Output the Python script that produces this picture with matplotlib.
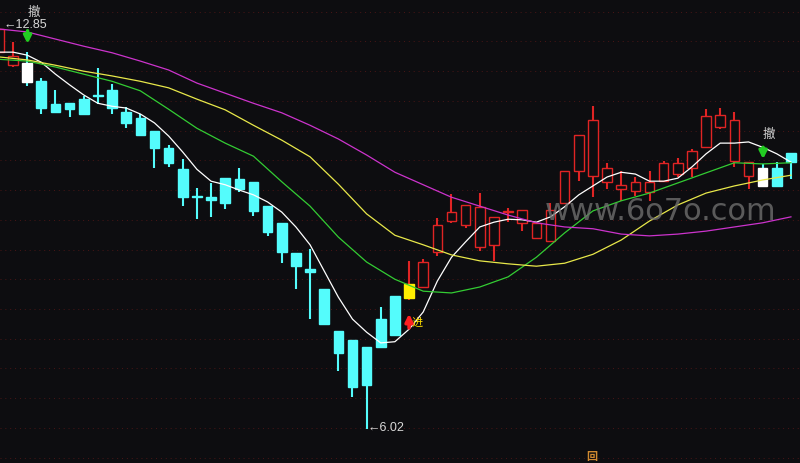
import matplotlib.pyplot as plt
import numpy as np

# K-line data (price), one entry per trading day
opens = [12.36, 12.14, 12.18, 11.87, 11.49, 11.50, 11.57, 11.64, 11.72, 11.35,
         11.25, 11.03, 10.75, 10.39, 9.94, 9.92, 10.24, 10.23, 10.18, 9.77,
         9.49, 8.98, 8.71, 8.38, 7.67, 7.52, 7.40, 7.87, 8.26, 8.22,
         8.41, 9.00, 9.52, 9.45, 9.08, 9.12, 9.67, 9.49, 9.23, 9.18,
         9.82, 10.36, 10.28, 10.18, 10.06, 10.02, 10.01, 10.19, 10.31, 10.41,
         10.76, 11.10, 10.53, 10.28, 10.41, 10.41, 10.66]
closes = [12.75, 12.30, 11.86, 11.42, 11.35, 11.40, 11.32, 11.62, 11.42, 11.17,
          10.97, 10.75, 10.50, 9.92, 9.92, 9.87, 9.82, 10.06, 9.69, 9.34,
          9.00, 8.76, 8.66, 7.79, 7.30, 6.73, 6.76, 7.40, 7.60, 8.46,
          8.83, 9.45, 9.67, 9.79, 9.76, 9.59, 9.67, 9.71, 9.49, 9.71,
          10.36, 10.97, 11.22, 10.41, 10.13, 10.18, 10.18, 10.50, 10.50, 10.70,
          11.29, 11.30, 11.22, 10.51, 10.11, 10.11, 10.51]
highs = [12.85, 12.53, 12.36, 11.93, 11.72, 11.50, 11.62, 12.09, 11.82, 11.44,
         11.32, 11.03, 10.80, 10.56, 10.08, 10.16, 10.24, 10.41, 10.18, 9.77,
         9.49, 8.98, 9.05, 8.38, 7.67, 7.52, 7.40, 8.07, 8.26, 8.85,
         8.88, 9.57, 9.97, 9.79, 9.99, 9.59, 9.74, 9.71, 9.49, 9.82,
         10.36, 10.97, 11.45, 10.50, 10.36, 10.26, 10.36, 10.53, 10.58, 10.73,
         11.40, 11.42, 11.35, 10.51, 10.48, 10.51, 10.66]
lows = [12.33, 12.11, 11.79, 11.32, 11.35, 11.27, 11.32, 11.49, 11.32, 11.08,
        10.97, 10.41, 10.43, 9.77, 9.55, 9.59, 9.72, 10.01, 9.60, 9.27,
        8.81, 8.38, 7.87, 7.79, 7.00, 6.56, 6.02, 7.40, 7.60, 8.19,
        8.41, 8.93, 9.49, 9.40, 9.02, 8.85, 9.50, 9.35, 9.23, 9.17,
        9.82, 10.19, 9.92, 10.06, 9.86, 9.94, 9.86, 10.19, 10.26, 10.26,
        10.76, 11.07, 10.43, 10.06, 10.11, 10.11, 10.23]

# signal candles drawn with a special fill
sell_days = [2, 54]
buy_days = [29]

# moving averages
ma_short = [12.36, 12.36, 12.31, 12.19, 11.99, 11.81, 11.64, 11.50, 11.45, 11.42,
            11.32, 11.17, 10.95, 10.68, 10.39, 10.19, 10.13, 10.04, 9.96, 9.84,
            9.67, 9.42, 9.12, 8.68, 8.24, 7.87, 7.65, 7.47, 7.49, 7.70,
            7.99, 8.51, 8.91, 9.17, 9.42, 9.50, 9.55, 9.54, 9.50, 9.59,
            9.76, 9.96, 10.11, 10.26, 10.34, 10.31, 10.19, 10.19, 10.24, 10.43,
            10.65, 10.83, 10.83, 10.85, 10.76, 10.65, 10.51]
ma_days = list(range(0, 57, 2))
ma_green = [12.24, 12.21, 12.11, 11.99, 11.87, 11.71, 11.40, 11.08, 10.83, 10.61,
            10.18, 9.77, 9.25, 8.83, 8.54, 8.34, 8.31, 8.41, 8.58, 8.91,
            9.32, 9.69, 9.86, 9.99, 10.16, 10.33, 10.50, 10.48, 10.50]
ma_yellow = [12.28, 12.23, 12.14, 12.04, 11.96, 11.87, 11.76, 11.57, 11.39, 11.13,
             10.88, 10.60, 10.14, 9.64, 9.28, 9.12, 8.95, 8.85, 8.80, 8.76,
             8.81, 8.96, 9.20, 9.52, 9.79, 9.99, 10.11, 10.21, 10.29]
ma_magenta = [12.75, 12.70, 12.58, 12.46, 12.35, 12.21, 12.06, 11.84, 11.67, 11.50,
              11.34, 11.13, 10.90, 10.63, 10.34, 10.13, 9.92, 9.77, 9.62, 9.49,
              9.42, 9.39, 9.30, 9.27, 9.30, 9.35, 9.42, 9.49, 9.59]

BG = '#0d0d10'
UP = '#e02424'
DOWN = '#54fcfc'
CJK = ['Noto Sans CJK SC', 'DejaVu Sans']
NUM = ['Liberation Sans', 'DejaVu Sans']

fig = plt.figure(figsize=(8, 4.64), dpi=100, facecolor=BG)
ax = fig.add_axes([0, 0, 1, 1])
ax.set_facecolor(BG)
ax.set_xlim(0.08, 56.64)
ax.set_ylim(5.45, 13.254)
ax.axis('off')

# dotted grid, very dim
for lvl in np.arange(5.54, 13.1, 0.5):
    ax.axhline(lvl, color='#4a1616', lw=0.7, ls=(0, (1, 4)), zorder=0)

days = np.arange(len(opens))
o = np.array(opens)
c = np.array(closes)
up = c > o
up[36] = True  # cross candle drawn red

wick_colors = [UP if u else DOWN for u in up]
ax.vlines(days, lows, highs, colors=wick_colors, lw=1.5, zorder=2)

body_bottom = np.minimum(o, c)
body_height = np.maximum(np.abs(c - o), 0.015)
for i in days:
    if i in sell_days:
        fc, ec = '#ffffff', '#ffffff'
    elif i in buy_days:
        fc, ec = '#ffee00', '#ffee00'
    elif up[i]:
        fc, ec = BG, UP
    else:
        fc, ec = DOWN, DOWN
    ax.bar(i, body_height[i], bottom=body_bottom[i], width=0.68,
           facecolor=fc, edgecolor=ec, lw=1.0, zorder=3)

# moving averages
ax.plot(days, ma_short, color='#ffffff', lw=0.9, zorder=4)
ax.plot(ma_days, ma_green, color='#33cc33', lw=0.9, zorder=4)
ax.plot(ma_days, ma_yellow, color='#e8e84a', lw=0.9, zorder=4)
ax.plot(ma_days, ma_magenta, color='#cc33cc', lw=0.9, zorder=4)

# extreme values
ax.text(0.36, 12.84, '←12.85', color='#d8d8d8', fontsize=9, ha='left', va='center',
        family=NUM, zorder=6)
ax.text(26.03, 6.05, '←6.02', color='#d8d8d8', fontsize=9, ha='left', va='center',
        family=NUM, zorder=6)

# sell signals
for x, ty, a0, a1 in [(2.45, 13.05, 12.72, 12.50), (54.45, 11.0, 10.76, 10.56)]:
    ax.text(x, ty, '撤', color='#d0d0d0', fontsize=9, ha='center', va='center',
            family=CJK, zorder=6)
    ax.annotate('', xy=(x - 0.42, a1), xytext=(x - 0.42, a0),
                arrowprops=dict(arrowstyle='-|>', color='#22cc22', lw=2.5,
                                mutation_scale=11, shrinkA=0, shrinkB=0), zorder=6)

# buy signal
ax.annotate('', xy=(29.0, 7.96), xytext=(29.0, 7.72),
            arrowprops=dict(arrowstyle='-|>', color='#ff2020', lw=2.5,
                            mutation_scale=11, shrinkA=0, shrinkB=0), zorder=6)
ax.text(29.56, 7.82, '进', color='#ffdd00', fontsize=8, ha='center', va='center',
        family=CJK, zorder=7)

# watermark
ax.text(46.8, 9.69, 'www.6o7o.com', color='#6e6e6e', alpha=0.8, fontsize=22,
        ha='center', va='center', zorder=8)

# small icon at the bottom
ax.text(41.93, 5.57, '回', color='#d08a30', fontsize=8, ha='center', va='center',
        family=CJK, fontweight='bold', zorder=6)

fig.savefig('out.png', dpi=100, facecolor=BG)
